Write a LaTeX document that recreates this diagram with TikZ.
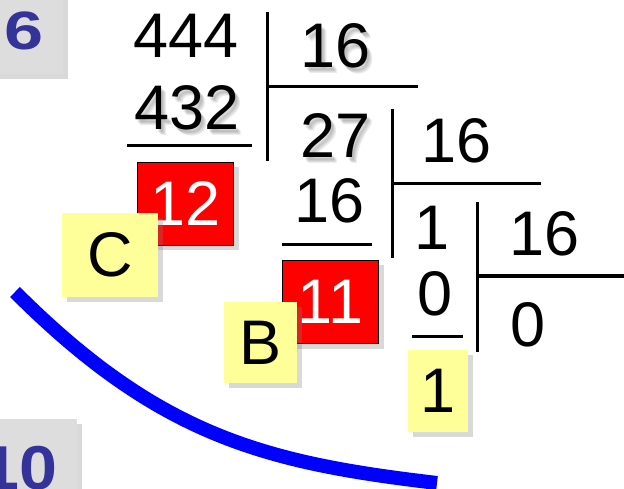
\documentclass[tikz,border=0pt]{standalone}
\usepackage{fontspec}
\setmainfont{Liberation Sans}
\usepackage{graphicx}
\usepackage{tikz}
\usetikzlibrary{shadows}

\definecolor{numblue}{HTML}{333399}
\definecolor{notegray}{HTML}{DDDDDD}
\definecolor{noteyellow}{HTML}{FFFF99}

% digits with a soft grey shadow behind them
\newcommand{\blurdigits}[3]{%
  \foreach \dx/\dy in {2/3,3/4,4/5,5/6}
    \node[digits,text=black,opacity=0.07,xshift=\dx pt,yshift=-\dy pt] at (#1) {#3};
  \node[digits] (#2) at (#1) {#3};}

\begin{document}
\begin{tikzpicture}[x=1pt,y=-1pt,
      digits/.style={font=\fontsize{63}{70}\selectfont,inner sep=0pt,anchor=base},
      divline/.style={line width=3pt},
      boxshadow/.style={drop shadow={shadow xshift=5pt,shadow yshift=-5pt,opacity=0.3}},
      redbox/.style={draw=black,line width=1.5pt,fill=red,text=white,minimum width=96pt,minimum height=83pt,
        inner sep=0pt,font=\fontsize{63}{70}\selectfont,boxshadow},
      yellowbox/.style={fill=noteyellow,text=black,inner sep=0pt,font=\fontsize{63}{70}\selectfont,boxshadow},
      graybox/.style={fill=notegray,boxshadow},
      basenum/.style={text=numblue,inner sep=0pt,font=\bfseries}]
    \useasboundingbox (0,0) rectangle (624,489);
    % base labels
    \fill[graybox] (-10,-10) rectangle (63,74);
    \node[basenum,font=\bfseries\fontsize{54}{60}\selectfont,anchor=base] (base16) at (24,50) {\scalebox{1.3}[1]{6}};
    \fill[graybox] (-10,419) rectangle (77,500);
    \node[basenum,font=\bfseries\fontsize{62}{70}\selectfont,anchor=base east] (base10) at (58,489) {\scalebox{1.1}[1]{10}};
    % first step: 444 : 16
    \node[digits] (n444) at (186,58) {444};
    \blurdigits{187,130}{n432}{432}
    \draw[divline] (127,146) -- (252,146);
    \draw[divline] (267,12) -- (267,161);
    \draw[divline] (267,87) -- (418,87);
    \blurdigits{336,68}{d1}{16}
    \blurdigits{336,158}{q1}{27}
    % second step: 27 : 16
    \draw[divline] (392,109) -- (392,258);
    \draw[divline] (392,184) -- (541,184);
    \node[digits] (d2) at (457,163) {16};
    \node[digits] (s2) at (330,223) {16};
    \draw[divline] (282,245) -- (372,245);
    % third step: 1 : 16
    \node[digits] (q2) at (432,250) {1};
    \draw[divline] (477,202) -- (477,352);
    \draw[divline] (477,276) -- (624,276);
    \node[digits] (d3) at (545,255) {16};
    \node[digits] (s3) at (435,315) {0};
    \draw[divline] (412,336) -- (463,336);
    \node[digits] (q3) at (528,346) {0};
    % remainders
    \node[redbox] (r12) at (185.5,204) {12};
    \node[yellowbox,minimum width=96pt,minimum height=84pt] (hexC) at (110,255) {C};
    \node[redbox] (r11) at (330.5,302) {11};
    \node[yellowbox,minimum width=73pt,minimum height=81pt] (hexB) at (260.5,342.5) {B};
    \node[yellowbox,minimum width=60pt,minimum height=82pt] (hex1) at (438,391) {1};
    % reading direction
    \coordinate (arcstart) at (15,292);
    \coordinate (arcend) at (437,483);
    \draw[blue,line width=14pt] (arcstart) .. controls (160,437) and (267,463) .. (arcend);
  \end{tikzpicture}
\end{document}
